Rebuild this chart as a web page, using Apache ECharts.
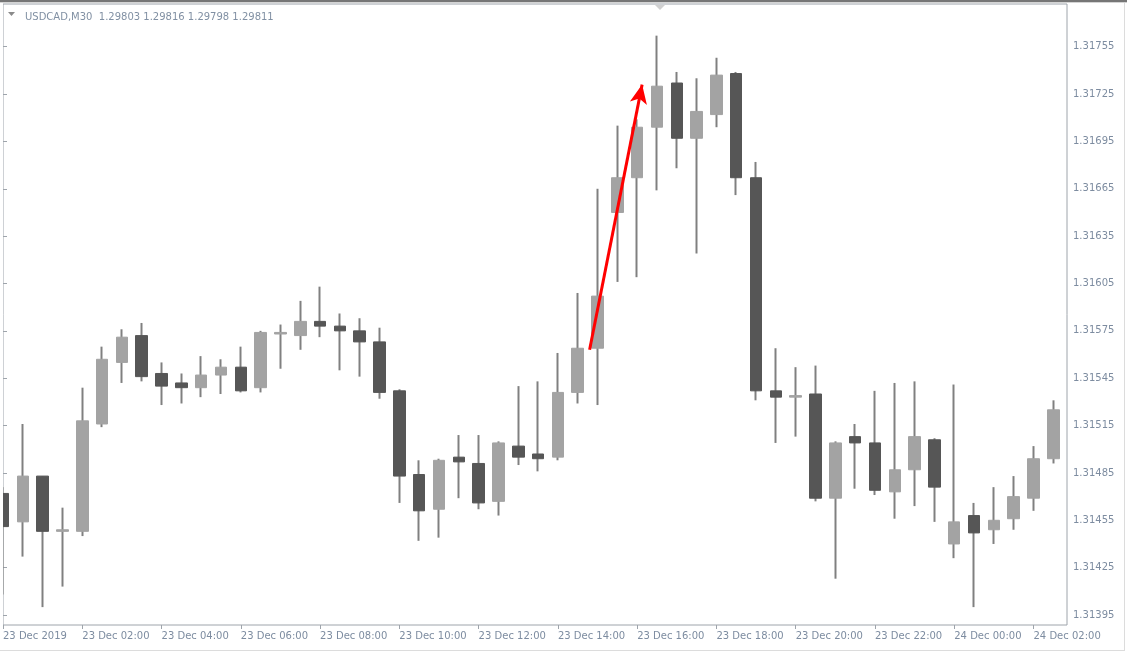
<!DOCTYPE html>
<html>
<head>
<meta charset="utf-8">
<script src="https://cdn.jsdelivr.net/npm/echarts@6/dist/echarts.min.js"></script>
<style>
  html, body { margin: 0; padding: 0; background: #ffffff; }
  #chart { width: 1127px; height: 655px; }
</style>
</head>
<body>
<div id="chart"></div>
<script>
const title = 'USDCAD,M30  1.29803 1.29816 1.29798 1.29811';

// M30 candles, 23 Dec 2019 00:00 .. 24 Dec 2019 02:30
const opens = [1.31472,1.31454,1.31483,1.31448,1.31448,1.31516,1.31555,1.31572,1.31548,1.31542,
  1.31539,1.31547,1.31552,1.31539,1.31573,1.31572,1.31581,1.31578,1.31575,1.31568,
  1.31537,1.31484,1.31462,1.31495,1.31491,1.31467,1.31502,1.31497,1.31495,1.31536,
  1.31564,1.31650,1.31672,1.31704,1.31732,1.31697,1.31712,1.31738,1.31672,1.31537,
  1.31533,1.31535,1.31469,1.31508,1.31504,1.31473,1.31487,1.31506,1.31440,1.31458,
  1.31449,1.31456,1.31469,1.31494];
const closes = [1.31451,1.31483,1.31448,1.31449,1.31518,1.31557,1.31571,1.31546,1.31540,1.31539,
  1.31547,1.31552,1.31537,1.31574,1.31574,1.31581,1.31578,1.31575,1.31568,1.31536,
  1.31483,1.31461,1.31493,1.31492,1.31466,1.31504,1.31495,1.31494,1.31536,1.31564,
  1.31597,1.31672,1.31704,1.31730,1.31697,1.31714,1.31737,1.31672,1.31537,1.31533,
  1.31534,1.31469,1.31504,1.31504,1.31474,1.31487,1.31508,1.31476,1.31454,1.31447,
  1.31455,1.31470,1.31494,1.31525];
const lows = [1.31408,1.31432,1.31400,1.31413,1.31445,1.31514,1.31542,1.31543,1.31528,1.31529,
  1.31533,1.31535,1.31536,1.31536,1.31551,1.31563,1.31571,1.31550,1.31546,1.31532,
  1.31466,1.31442,1.31444,1.31469,1.31462,1.31458,1.31490,1.31486,1.31493,1.31529,
  1.31528,1.31606,1.31609,1.31664,1.31678,1.31624,1.31704,1.31661,1.31531,1.31504,
  1.31508,1.31467,1.31418,1.31475,1.31471,1.31456,1.31464,1.31454,1.31431,1.31400,
  1.31440,1.31449,1.31461,1.31491];
const highs = [1.31476,1.31516,1.31483,1.31463,1.31539,1.31565,1.31576,1.31580,1.31555,1.31548,
  1.31559,1.31557,1.31565,1.31575,1.31579,1.31594,1.31603,1.31586,1.31583,1.31577,
  1.31538,1.31493,1.31494,1.31509,1.31509,1.31505,1.31540,1.31543,1.31561,1.31599,
  1.31665,1.31705,1.31709,1.31762,1.31739,1.31735,1.31748,1.31739,1.31682,1.31564,
  1.31552,1.31553,1.31505,1.31516,1.31537,1.31542,1.31543,1.31507,1.31541,1.31466,
  1.31476,1.31483,1.31502,1.31531];

// time-axis labels, one every 4 bars (2 hours)
const xTickLabels = ['23 Dec 2019','23 Dec 02:00','23 Dec 04:00','23 Dec 06:00','23 Dec 08:00',
  '23 Dec 10:00','23 Dec 12:00','23 Dec 14:00','23 Dec 16:00','23 Dec 18:00','23 Dec 20:00',
  '23 Dec 22:00','24 Dec 00:00','24 Dec 02:00'];
const xTickStep = 4;

// price-axis labels
const yTickLabels = [1.31395,1.31425,1.31455,1.31485,1.31515,1.31545,1.31575,1.31605,
  1.31635,1.31665,1.31695,1.31725,1.31755];

// red arrow annotation: [bar position, price] start and head
const arrowStart = [29.60, 1.31563];
const arrowEnd = [32.25, 1.31731];

const xTickValues = xTickLabels.map((_, i) => i * xTickStep);

const wickData = opens.map((o, i) => [i, o, closes[i], lows[i], highs[i]]);
const bodyData = opens.map((o, i) => [i, o, closes[i], Math.min(o, closes[i]), Math.max(o, closes[i])]);

const labelColor = '#7d8ca0';
const frameColor = '#9ea4ab';
const font = 'DejaVu Sans';

const chart = echarts.init(document.getElementById('chart'), null, { renderer: 'canvas' });
chart.setOption({
  animation: false,
  backgroundColor: '#ffffff',
  title: {
    text: title,
    left: 20, top: 7,
    textStyle: { fontFamily: font, fontSize: 10, fontWeight: 'normal', color: '#8190a3' }
  },
  grid: {
    left: 3, right: 60, top: 4, bottom: 30,
    show: true, borderColor: frameColor, borderWidth: 1, backgroundColor: '#ffffff'
  },
  xAxis: {
    type: 'value',
    min: 0,
    max: 53.69,
    interval: 4,
    axisLine: { show: false },
    splitLine: { show: false },
    axisTick: { show: true, customValues: xTickValues, length: 4, lineStyle: { color: frameColor } },
    axisLabel: {
      customValues: xTickValues,
      formatter: v => xTickLabels[Math.round(v / xTickStep)] || '',
      align: 'left', margin: 6,
      fontFamily: font, fontSize: 10, color: labelColor
    }
  },
  yAxis: {
    type: 'value',
    position: 'right',
    min: 1.3138867,
    max: 1.3178205,
    scale: true,
    axisLine: { show: false },
    splitLine: { show: false },
    axisTick: { show: true, customValues: yTickLabels, length: 4, lineStyle: { color: frameColor } },
    axisLabel: {
      customValues: yTickLabels,
      formatter: v => Number(v).toFixed(5),
      margin: 6,
      padding: [3, 0, 0, 0],
      fontFamily: font, fontSize: 10, color: labelColor
    }
  },
  series: [
    {
      name: 'wicks',
      type: 'candlestick',
      data: wickData,
      encode: { x: 0, y: [1, 2, 3, 4] },
      barWidth: 0.01,
      clip: true,
      itemStyle: {
        color: '#808080', color0: '#808080',
        borderColor: '#808080', borderColor0: '#808080', borderWidth: 2
      },
      z: 2
    },
    {
      name: 'bodies',
      type: 'candlestick',
      data: bodyData,
      encode: { x: 0, y: [1, 2, 3, 4] },
      barWidth: 12,
      clip: true,
      itemStyle: {
        color: '#a3a3a3', color0: '#565656',
        borderColor: '#a3a3a3', borderColor0: '#565656', borderWidth: 1
      },
      markLine: {
        silent: true,
        symbol: ['none', 'arrow'],
        symbolSize: [13, 19],
        label: { show: false },
        lineStyle: { color: '#ff0000', width: 3, type: 'solid' },
        data: [[{ coord: arrowStart }, { coord: arrowEnd }]],
        z: 10
      },
      z: 3
    }
  ],
  graphic: [
    { type: 'rect', z: 100, shape: { x: 0, y: 4, width: 3, height: 622 }, style: { fill: '#ffffff' }, silent: true },
    { type: 'rect', z: 100, shape: { x: 0, y: 0, width: 1127, height: 2 }, style: { fill: '#767676' }, silent: true },
    { type: 'rect', z: 100, shape: { x: 0, y: 2, width: 1127, height: 1 }, style: { fill: '#d4d4d4' }, silent: true },
    { type: 'polygon', z: 100, shape: { points: [[8, 12], [15, 12], [11.5, 16]] }, style: { fill: '#8a8a8a' }, silent: true },
    { type: 'polygon', z: 100, shape: { points: [[655, 5], [665, 5], [660, 10]] }, style: { fill: '#d0d0d0' }, silent: true },
    { type: 'rect', z: 100, shape: { x: 1124, y: 3, width: 1, height: 648 }, style: { fill: '#dcdcdc' }, silent: true },
    { type: 'rect', z: 100, shape: { x: 0, y: 650, width: 1125, height: 1 }, style: { fill: '#dcdcdc' }, silent: true }
  ]
});
</script>
</body>
</html>
